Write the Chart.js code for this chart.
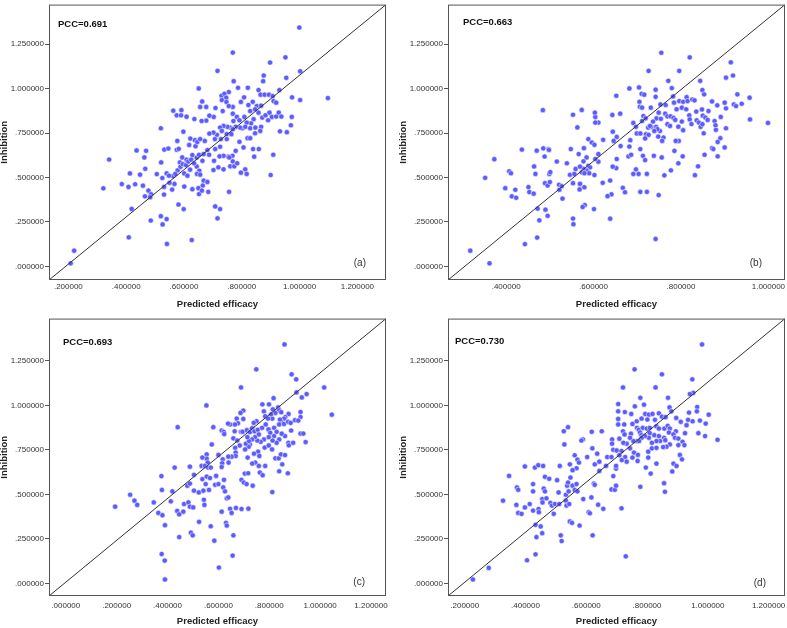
<!DOCTYPE html>
<html>
<head>
<meta charset="utf-8">
<title>Predicted efficacy vs inhibition</title>
<script src="https://cdn.jsdelivr.net/npm/chart.js@4.4.0/dist/chart.umd.min.js"></script>
<style>
  html, body { margin: 0; padding: 0; background: #fff; overflow: hidden; }
  #wrap { position: relative; width: 787px; height: 628px; overflow: hidden; background: #fff; }
  canvas { position: absolute; }
</style>
</head>
<body>
<div id="wrap">
  <canvas id="chartA"></canvas>
  <canvas id="chartB"></canvas>
  <canvas id="chartC"></canvas>
  <canvas id="chartD"></canvas>
</div>
<script>
// tick labels
const yTicks = [0, 0.25, 0.5, 0.75, 1.0, 1.25];
const xTicksA = [0.2, 0.4, 0.6, 0.8, 1.0, 1.2];
const xTicksB = [0.4, 0.6, 0.8, 1.0];
const xTicksC = [0, 0.2, 0.4, 0.6, 0.8, 1.0, 1.2];
const xTicksD = [0.2, 0.4, 0.6, 0.8, 1.0, 1.2];

const pccLabels = ["PCC=0.691", "PCC=0.663", "PCC=0.693", "PCC=0.730"];
const panelTags = ["(a)", "(b)", "(c)", "(d)"];

// [predicted efficacy, inhibition]
const pointsA = [
  [0.208,0.017],[0.22,0.088],
  [0.341,0.601],[0.321,0.439],[0.385,0.463],[0.408,0.447],[0.413,0.523],[0.419,0.323],[0.409,0.163],[0.431,0.462],
  [0.436,0.652],[0.448,0.516],[0.458,0.454],[0.463,0.613],[0.469,0.65],[0.466,0.549],[0.465,0.394],[0.477,0.426],
  [0.486,0.406],[0.483,0.389],[0.485,0.258],[0.506,0.519],[0.52,0.777],[0.521,0.585],[0.525,0.497],[0.52,0.282],
  [0.526,0.236],[0.532,0.657],[0.546,0.663],[0.531,0.447],[0.531,0.404],[0.54,0.523],[0.54,0.266],[0.541,0.126],
  [0.563,0.876],[0.591,0.879],[0.575,0.85],[0.59,0.85],[0.562,0.508],[0.559,0.432],[0.567,0.464],[0.575,0.656],
  [0.577,0.706],[0.582,0.661],[0.581,0.348],[0.586,0.585],[0.594,0.613],[0.598,0.758],[0.599,0.322],[0.601,0.449],
  [0.601,0.523],[0.609,0.842],[0.609,0.6],[0.618,0.683],[0.622,0.719],[0.621,0.544],[0.627,0.148],[0.629,0.626],
  [0.629,0.434],[0.636,0.829],[0.64,0.676],[0.644,0.562],[0.644,0.612],[0.651,1.001],[0.652,0.628],[0.652,0.407],
  [0.653,0.538],[0.578,0.54],[0.588,0.56],[0.596,0.575],[0.607,0.57],[0.615,0.59],[0.625,0.6],[0.635,0.58],
  [0.612,0.51],[0.57,0.52],[0.55,0.47],[0.548,0.51],[0.638,0.71],[0.646,0.7],[0.65,0.44],[0.645,0.52],
  [0.999,1.344],[0.769,1.203],[0.716,1.1],[0.951,1.176],[0.898,1.147],[1.002,1.098],[0.954,1.061],[0.876,1.074],
  [0.874,1.042],[0.772,1.042],[0.821,1.005],[0.787,1.005],[0.858,0.992],[0.93,0.992],[0.755,0.981],[0.73,0.96],
  [0.74,0.971],[0.746,0.949],[0.731,0.936],[0.747,0.925],[0.865,0.966],[0.879,0.966],[0.894,0.966],[0.907,0.958],
  [0.91,0.93],[0.919,0.921],[0.974,0.951],[1.002,0.936],[1.098,0.947],[0.808,0.951],[0.797,0.925],[0.769,0.897],
  [0.755,0.902],[0.709,0.891],[0.677,0.897],[0.663,0.928],[0.703,0.841],[0.688,0.848],[0.677,0.82],[0.661,0.818],
  [0.656,0.897],[0.734,0.874],[0.769,0.859],[0.771,0.818],[0.783,0.841],[0.792,0.822],[0.809,0.841],[0.823,0.908],
  [0.838,0.926],[0.852,0.902],[0.867,0.904],[0.829,0.874],[0.846,0.884],[0.858,0.865],[0.871,0.837],[0.882,0.85],
  [0.896,0.865],[0.891,0.822],[0.904,0.841],[0.919,0.843],[0.928,0.865],[0.937,0.843],[0.973,0.841],[0.97,0.794],
  [0.932,0.76],[0.956,0.755],[0.841,0.828],[0.832,0.805],[0.817,0.809],[0.802,0.777],[0.812,0.785],[0.794,0.781],
  [0.779,0.785],[0.76,0.781],[0.75,0.785],[0.737,0.79],[0.725,0.781],[0.731,0.762],[0.714,0.74],[0.702,0.753],
  [0.688,0.747],[0.672,0.706],[0.656,0.716],[0.748,0.744],[0.764,0.744],[0.769,0.772],[0.829,0.777],[0.847,0.781],
  [0.867,0.785],[0.846,0.749],[0.864,0.762],[0.82,0.721],[0.829,0.721],[0.792,0.701],[0.707,0.716],[0.728,0.716],
  [0.748,0.716],[0.725,0.673],[0.708,0.66],[0.681,0.654],[0.668,0.632],[0.806,0.669],[0.839,0.66],[0.859,0.66],
  [0.843,0.617],[0.779,0.65],[0.768,0.622],[0.753,0.617],[0.737,0.622],[0.723,0.619],[0.687,0.628],[0.704,0.594],
  [0.664,0.594],[0.769,0.591],[0.757,0.613],[0.76,0.563],[0.774,0.563],[0.784,0.58],[0.812,0.546],[0.702,0.542],
  [0.719,0.557],[0.737,0.546],[0.797,0.527],[0.817,0.52],[0.909,0.628],[0.9,0.514],[0.656,0.516],[0.668,0.482],
  [0.681,0.475],[0.665,0.455],[0.662,0.426],[0.684,0.419],[0.756,0.419],[0.708,0.337],[0.725,0.322],[0.716,0.27]
];

const pointsB = [
  [0.318,0.088],[0.362,0.017],[0.352,0.498],[0.373,0.603],[0.398,0.44],[0.407,0.535],[0.411,0.524],[0.413,0.394],
  [0.421,0.431],[0.423,0.386],[0.436,0.657],[0.443,0.125],[0.451,0.446],[0.453,0.418],[0.463,0.409],[0.464,0.562],
  [0.467,0.52],[0.47,0.651],[0.472,0.325],[0.471,0.162],[0.476,0.259],[0.485,0.664],[0.484,0.879],[0.488,0.618],
  [0.489,0.468],[0.49,0.319],[0.495,0.455],[0.497,0.66],[0.498,0.655],[0.495,0.284],[0.499,0.52],[0.5,0.474],
  [0.501,0.53],[0.516,0.59],[0.521,0.459],[0.522,0.431],[0.529,0.381],[0.527,0.451],[0.539,0.58],[0.546,0.515],
  [0.548,0.66],[0.553,0.853],[0.553,0.468],[0.553,0.269],[0.554,0.237],[0.556,0.52],[0.559,0.548],[0.563,0.782],
  [0.566,0.632],[0.568,0.433],[0.569,0.465],
  [0.755,1.202],[0.82,1.176],[0.914,1.148],[0.726,1.1],[0.796,1.1],[0.919,1.074],[0.903,1.062],[0.771,1.044],
  [0.844,1.044],[0.682,1.001],[0.704,1.007],[0.742,0.994],[0.779,1.003],[0.849,0.992],[0.853,0.968],[0.652,0.96],
  [0.71,0.971],[0.716,0.966],[0.742,0.954],[0.782,0.956],[0.796,0.93],[0.805,0.926],[0.813,0.952],[0.815,0.93],
  [0.826,0.939],[0.831,0.934],[0.929,0.968],[0.957,0.949],[0.939,0.915],[0.921,0.911],[0.926,0.902],[0.9,0.921],
  [0.903,0.889],[0.871,0.928],[0.883,0.906],[0.863,0.874],[0.848,0.883],[0.705,0.926],[0.706,0.898],[0.711,0.893],
  [0.731,0.893],[0.753,0.911],[0.765,0.908],[0.784,0.921],[0.79,0.884],[0.802,0.893],[0.812,0.884],[0.749,0.865],
  [0.764,0.859],[0.769,0.844],[0.776,0.844],[0.783,0.835],[0.787,0.824],[0.714,0.846],[0.719,0.833],[0.744,0.833],
  [0.754,0.83],[0.691,0.807],[0.711,0.818],[0.736,0.815],[0.743,0.785],[0.732,0.785],[0.725,0.781],[0.72,0.744],
  [0.699,0.748],[0.707,0.748],[0.726,0.74],[0.718,0.72],[0.697,0.785],[0.769,0.8],[0.775,0.79],[0.794,0.786],
  [0.802,0.815],[0.819,0.85],[0.82,0.827],[0.824,0.801],[0.835,0.871],[0.836,0.822],[0.841,0.809],[0.845,0.785],
  [0.849,0.8],[0.852,0.749],[0.85,0.848],[0.856,0.837],[0.861,0.824],[0.877,0.818],[0.879,0.794],[0.88,0.768],
  [0.89,0.721],[0.891,0.841],[0.903,0.777],[0.884,0.7],[0.871,0.666],[0.874,0.66],[0.9,0.669],[0.884,0.619],
  [0.854,0.628],[0.839,0.563],[0.832,0.513],[0.958,0.827],[0.999,0.807],[0.805,0.766],[0.795,0.706],[0.788,0.706],
  [0.785,0.65],[0.804,0.619],[0.794,0.58],[0.777,0.54],[0.762,0.512],[0.749,0.401],[0.742,0.154],[0.756,0.613],
  [0.738,0.622],[0.722,0.52],[0.722,0.419],[0.703,0.52],[0.691,0.52],[0.697,0.546],[0.707,0.419],[0.713,0.622],
  [0.718,0.598],[0.707,0.66],[0.752,0.762],[0.76,0.725],[0.757,0.706],[0.748,0.73],[0.746,0.772],[0.739,0.762],
  [0.729,0.79],[0.68,0.619],[0.686,0.628],[0.682,0.674],[0.684,0.71],[0.662,0.677],[0.653,0.604],[0.652,0.553],
  [0.644,0.561],[0.643,0.852],[0.661,0.859],[0.611,0.809],[0.604,0.809],[0.604,0.841],[0.603,0.865],[0.573,0.88],
  [0.644,0.758],[0.653,0.728],[0.646,0.706],[0.622,0.712],[0.578,0.665],[0.588,0.716],[0.596,0.697],[0.602,0.684],
  [0.611,0.632],[0.611,0.589],[0.604,0.604],[0.584,0.613],[0.577,0.591],[0.588,0.566],[0.592,0.557],[0.584,0.539],
  [0.577,0.548],[0.59,0.524],[0.602,0.514],[0.569,0.561],[0.573,0.529],[0.579,0.524],[0.569,0.464],[0.579,0.445],
  [0.621,0.47],[0.638,0.483],[0.667,0.442],[0.672,0.417],[0.641,0.405],[0.632,0.395],[0.601,0.322],[0.58,0.345],
  [0.575,0.334],[0.638,0.268]
];

const pointsC = [
  [0.194,0.431],[0.253,0.498],[0.27,0.465],[0.281,0.441],[0.346,0.455],[0.364,0.396],[0.376,0.603],[0.378,0.525],
  [0.38,0.383],[0.39,0.327],[0.377,0.165],[0.389,0.128],[0.39,0.022],[0.413,0.461],[0.419,0.517],[0.438,0.407],
  [0.446,0.388],[0.446,0.26],[0.462,0.403],[0.465,0.446],[0.478,0.549],[0.482,0.455],[0.488,0.561],[0.488,0.431],
  [0.492,0.285],[0.499,0.27],[0.501,0.427],[0.504,0.61],[0.504,0.521],[0.523,0.511],[0.524,0.346],[0.537,0.586],
  [0.541,0.521],[0.543,0.47],[0.545,0.441],[0.55,0.558],[0.554,0.6],[0.563,0.525],[0.567,0.592],[0.57,0.321],
  [0.584,0.24],[0.587,0.554],[0.591,0.604],[0.6,0.558],[0.602,0.089],[0.613,0.403],[0.619,0.539],[0.622,0.582],
  [0.626,0.517],[0.63,0.34],[0.633,0.325],[0.633,0.478],[0.639,0.483],[0.646,0.419],[0.652,0.396],[0.656,0.156],
  [0.659,0.27],[0.669,0.424],
  [0.86,1.343],[0.749,1.203],[0.888,1.175],[0.906,1.147],[0.689,1.101],[1.016,1.101],[0.947,1.064],[0.907,1.073],
  [0.928,1.045],[0.817,1.041],[0.553,1.0],[0.773,1.006],[0.799,1.006],[0.835,0.989],[0.839,0.973],[0.698,0.971],
  [0.687,0.958],[0.779,0.967],[0.784,0.939],[0.814,0.978],[0.824,0.958],[0.847,0.962],[0.876,0.952],[0.923,0.963],
  [0.923,0.935],[0.863,0.935],[0.858,0.926],[0.847,0.911],[0.842,0.921],[0.812,0.926],[0.807,0.95],[0.795,0.926],
  [0.75,0.911],[0.739,0.902],[0.735,0.874],[0.672,0.926],[0.698,0.924],[0.677,0.9],[0.646,0.893],[0.638,0.898],
  [0.665,0.893],[0.58,0.878],[0.44,0.878],[0.613,0.859],[0.621,0.852],[0.623,0.839],[0.664,0.855],[0.689,0.852],
  [0.695,0.852],[0.659,0.815],[0.674,0.803],[0.712,0.861],[0.724,0.85],[0.732,0.871],[0.742,0.855],[0.755,0.863],
  [0.759,0.837],[0.772,0.874],[0.786,0.893],[0.797,0.865],[0.804,0.846],[0.819,0.874],[0.819,0.828],[0.829,0.852],
  [0.839,0.893],[0.858,0.896],[0.874,0.908],[0.884,0.902],[0.886,0.859],[0.923,0.842],[0.934,0.842],[0.943,0.794],
  [1.046,0.948],[0.862,0.828],[0.849,0.841],[0.839,0.809],[0.829,0.79],[0.813,0.803],[0.798,0.822],[0.779,0.809],
  [0.766,0.796],[0.753,0.803],[0.744,0.822],[0.732,0.809],[0.724,0.781],[0.719,0.768],[0.708,0.785],[0.705,0.753],
  [0.72,0.8],[0.714,0.822],[0.684,0.775],[0.666,0.762],[0.668,0.735],[0.668,0.716],[0.652,0.712],[0.639,0.712],
  [0.64,0.679],[0.617,0.697],[0.6,0.722],[0.615,0.675],[0.613,0.654],[0.574,0.781],[0.554,0.725],[0.554,0.701],
  [0.537,0.707],[0.558,0.679],[0.534,0.66],[0.547,0.66],[0.56,0.651],[0.57,0.651],[0.488,0.656],[0.428,0.651],
  [0.756,0.74],[0.761,0.716],[0.74,0.729],[0.745,0.679],[0.733,0.673],[0.715,0.707],[0.782,0.763],[0.798,0.775],
  [0.811,0.753],[0.824,0.703],[0.837,0.703],[0.846,0.725],[0.862,0.721],[0.851,0.669],[0.875,0.79],[0.877,0.776],
  [0.894,0.79],[0.901,0.917],[0.914,0.915],[0.839,0.63],[0.873,0.619],[0.763,0.623],[0.774,0.608],[0.759,0.66],
  [0.784,0.66],[0.735,0.549],[0.704,0.617],[0.717,0.619],[0.691,0.582],[0.7,0.567],[0.711,0.558],[0.812,0.513],
  [0.691,0.418],[0.718,0.42]
];

const pointsD = [
  [0.227,0.022],[0.279,0.087],[0.326,0.465],[0.346,0.604],[0.37,0.441],[0.372,0.539],[0.376,0.526],[0.376,0.396],
  [0.387,0.391],[0.398,0.427],[0.405,0.13],[0.414,0.446],[0.425,0.558],[0.425,0.517],[0.425,0.409],[0.433,0.329],
  [0.433,0.163],[0.436,0.26],[0.443,0.418],[0.444,0.4],[0.45,0.32],[0.455,0.282],[0.455,0.474],[0.456,0.455],
  [0.46,0.533],[0.464,0.517],[0.464,0.599],[0.469,0.478],[0.478,0.588],[0.482,0.452],[0.487,0.437],[0.493,0.391],
  [0.497,0.446],[0.509,0.511],[0.511,0.446],[0.504,0.58],[0.516,0.27],[0.519,0.238],[0.533,0.498],[0.533,0.465],
  [0.535,0.437],[0.537,0.549],[0.54,0.567],[0.542,0.517],[0.544,0.446],[0.546,0.348],[0.553,0.34],[0.548,0.595],
  [0.555,0.549],[0.562,0.525],[0.568,0.558],[0.571,0.517],[0.578,0.325],[0.59,0.474],[0.608,0.4],[0.612,0.394],
  [0.617,0.483],[0.621,0.27],[0.625,0.561],[0.628,0.554],[0.639,0.442],[0.656,0.419],[0.683,0.528],[0.694,0.526],
  [0.716,0.422],[0.73,0.152],[0.689,0.603],[0.698,0.549],
  [0.981,1.343],[0.759,1.203],[0.849,1.175],[0.949,1.147],[0.721,1.101],[0.828,1.101],[0.952,1.071],[0.941,1.064],
  [0.778,1.043],[0.869,1.043],[0.705,1.008],[0.76,0.995],[0.79,1.004],[0.874,0.989],[0.88,0.967],[0.705,0.967],
  [0.727,0.963],[0.965,0.991],[0.964,0.967],[0.938,0.96],[1.003,0.948],[0.748,0.952],[0.794,0.952],[0.806,0.948],
  [0.818,0.952],[0.839,0.956],[0.849,0.937],[0.861,0.934],[0.896,0.93],[0.705,0.924],[0.766,0.911],[0.782,0.926],
  [0.801,0.921],[0.826,0.919],[0.705,0.893],[0.725,0.893],[0.752,0.896],[0.911,0.908],[0.935,0.919],[0.95,0.911],
  [0.974,0.915],[0.993,0.898],[0.93,0.889],[0.767,0.874],[0.773,0.863],[0.786,0.874],[0.799,0.87],[0.809,0.874],
  [0.831,0.883],[0.839,0.87],[0.857,0.87],[0.868,0.885],[0.875,0.87],[0.895,0.855],[0.925,0.844],[0.969,0.844],
  [0.991,0.828],[1.032,0.807],[0.721,0.855],[0.726,0.837],[0.747,0.841],[0.777,0.848],[0.781,0.833],[0.809,0.844],
  [0.824,0.833],[0.839,0.828],[0.856,0.818],[0.872,0.848],[0.887,0.837],[0.892,0.818],[0.903,0.814],[0.917,0.796],
  [0.923,0.777],[0.903,0.777],[0.875,0.781],[0.864,0.768],[0.86,0.805],[0.843,0.8],[0.831,0.8],[0.816,0.79],
  [0.806,0.818],[0.793,0.828],[0.782,0.818],[0.766,0.8],[0.774,0.8],[0.755,0.8],[0.744,0.818],[0.733,0.785],
  [0.722,0.79],[0.709,0.813],[0.685,0.809],[0.685,0.785],[0.689,0.751],[0.7,0.747],[0.716,0.744],[0.744,0.759],
  [0.757,0.735],[0.752,0.707],[0.77,0.722],[0.804,0.74],[0.816,0.759],[0.831,0.762],[0.853,0.766],[0.804,0.707],
  [0.831,0.673],[0.709,0.72],[0.728,0.71],[0.733,0.684],[0.717,0.693],[0.769,0.688],[0.796,0.651],[0.812,0.617],
  [0.887,0.673],[0.897,0.66],[0.883,0.629],[0.908,0.722],[0.915,0.697],[0.856,0.563],[0.859,0.515],[0.778,0.543],
  [0.698,0.645],[0.698,0.66],[0.665,0.66],[0.651,0.855],[0.618,0.852],[0.589,0.809],[0.584,0.803],[0.526,0.855],
  [0.54,0.878],[0.528,0.781],[0.562,0.72],[0.571,0.696],[0.576,0.679],[0.62,0.759],[0.636,0.729],[0.603,0.71],
  [0.628,0.669],[0.643,0.684],[0.669,0.71],[0.683,0.71],[0.643,0.632],[0.568,0.647],[0.546,0.669],[0.555,0.636],
  [0.513,0.66],[0.398,0.657],[0.431,0.651],[0.442,0.664],[0.458,0.66]
];

const FONT = "'Liberation Sans', Arial, sans-serif";

// placement of each panel in the page (pixels) and its axis window
const panels = [
  { id: "chartA", points: pointsA, xTicks: xTicksA, xMin: 0.133, xMax: 1.299, yMin: -0.077, yMax: 1.473,
    left: -1, top: 0, width: 394, height: 312, padTop: 3, padRight: 7, tickPad: 2, titlePad: 2.3,
    pcc: [9, 20], tag: [20, 17] },
  { id: "chartB", points: pointsB, xTicks: xTicksB, xMin: 0.267, xMax: 1.038, yMin: -0.077, yMax: 1.473,
    left: 398, top: 0, width: 395, height: 312, padTop: 3, padRight: 8, tickPad: 2, titlePad: 2.3,
    pcc: [15, 18], tag: [23, 17] },
  { id: "chartC", points: pointsC, xTicks: xTicksC, xMin: -0.066, xMax: 1.259, yMin: -0.071, yMax: 1.488,
    left: -1, top: 314, width: 394, height: 314, padTop: 2.7, padRight: 7, tickPad: 5, titlePad: 1.3,
    pcc: [14, 24], tag: [21, 14] },
  { id: "chartD", points: pointsD, xTicks: xTicksD, xMin: 0.145, xMax: 1.254, yMin: -0.071, yMax: 1.488,
    left: 398, top: 314, width: 395, height: 314, padTop: 2.7, padRight: 8, tickPad: 5, titlePad: 1.3,
    pcc: [7, 23], tag: [19, 13] }
];

function fmt(v) {
  const s = Math.abs(v).toFixed(6);
  return s.charAt(0) === "0" ? s.slice(1) : s;
}

// frame around the plot, PCC note and panel letter
const framePlugin = {
  id: "frame",
  afterDraw(chart, args, opts) {
    const { ctx, chartArea: a } = chart;
    ctx.save();
    ctx.strokeStyle = "#555";
    ctx.lineWidth = 1;
    ctx.strokeRect(a.left + 0.5, a.top + 0.5, a.right - a.left - 1, a.bottom - a.top - 1);
    ctx.fillStyle = "#111";
    ctx.textBaseline = "middle";
    ctx.textAlign = "left";
    ctx.font = "bold 9.5px " + FONT;
    ctx.fillText(opts.pccText, a.left + opts.pcc[0], a.top + opts.pcc[1]);
    ctx.fillStyle = "#333";
    ctx.textAlign = "right";
    ctx.font = "10px " + FONT;
    ctx.fillText(opts.tagText, a.right - opts.tag[0], a.bottom - opts.tag[1]);
    ctx.restore();
  }
};

panels.forEach((p, i) => {
  const canvas = document.getElementById(p.id);
  canvas.width = p.width;
  canvas.height = p.height;
  canvas.style.left = p.left + "px";
  canvas.style.top = p.top + "px";

  new Chart(canvas, {
    type: "scatter",
    data: {
      datasets: [
        {
          type: "line",
          data: [{ x: p.xMin, y: p.yMin }, { x: p.xMax, y: p.yMax }],
          borderColor: "#333",
          borderWidth: 1,
          pointRadius: 0,
          fill: false,
        },
        {
          data: p.points.map(([x, y]) => ({ x, y })),
          backgroundColor: "#5b5bff",
          borderColor: "rgba(255,255,255,0.85)",
          borderWidth: 0.6,
          pointRadius: 2.6,
        },
      ],
    },
    options: {
      responsive: false,
      animation: false,
      layout: { padding: { left: 0, top: p.padTop, right: p.padRight, bottom: 0 } },
      plugins: {
        legend: { display: false },
        tooltip: { enabled: false },
        frame: { pccText: pccLabels[i], tagText: panelTags[i], pcc: p.pcc, tag: p.tag },
      },
      scales: {
        x: {
          type: "linear",
          min: p.xMin,
          max: p.xMax,
          grid: { display: false, drawTicks: false },
          border: { display: false },
          afterBuildTicks: (s) => { s.ticks = p.xTicks.map((v) => ({ value: v })); },
          afterFit: (s) => { s.height = 32; s.paddingLeft = 0; s.paddingRight = 0; },
          ticks: {
            autoSkip: false,
            maxRotation: 0,
            padding: p.tickPad,
            color: "#333",
            font: { family: FONT, size: 8 },
            callback: (v) => fmt(v),
          },
          title: {
            display: true,
            text: "Predicted efficacy",
            color: "#222",
            font: { family: FONT, size: 9.5, weight: "bold" },
            padding: { top: 0, bottom: p.titlePad },
          },
        },
        y: {
          type: "linear",
          min: p.yMin,
          max: p.yMax,
          grid: { display: true, drawOnChartArea: false, drawTicks: true, tickLength: 4, color: "#555" },
          border: { display: false },
          afterBuildTicks: (s) => { s.ticks = yTicks.map((v) => ({ value: v })); },
          afterFit: (s) => { s.width = 50; s.paddingTop = 0; s.paddingBottom = 0; },
          ticks: {
            autoSkip: false,
            padding: 1,
            color: "#333",
            font: { family: FONT, size: 8 },
            callback: (v) => fmt(v),
          },
          title: {
            display: true,
            text: "Inhibition",
            color: "#222",
            font: { family: FONT, size: 9.5, weight: "bold" },
            padding: { top: 0, bottom: 0 },
          },
        },
      },
    },
    plugins: [framePlugin],
  });
});
</script>
</body>
</html>
